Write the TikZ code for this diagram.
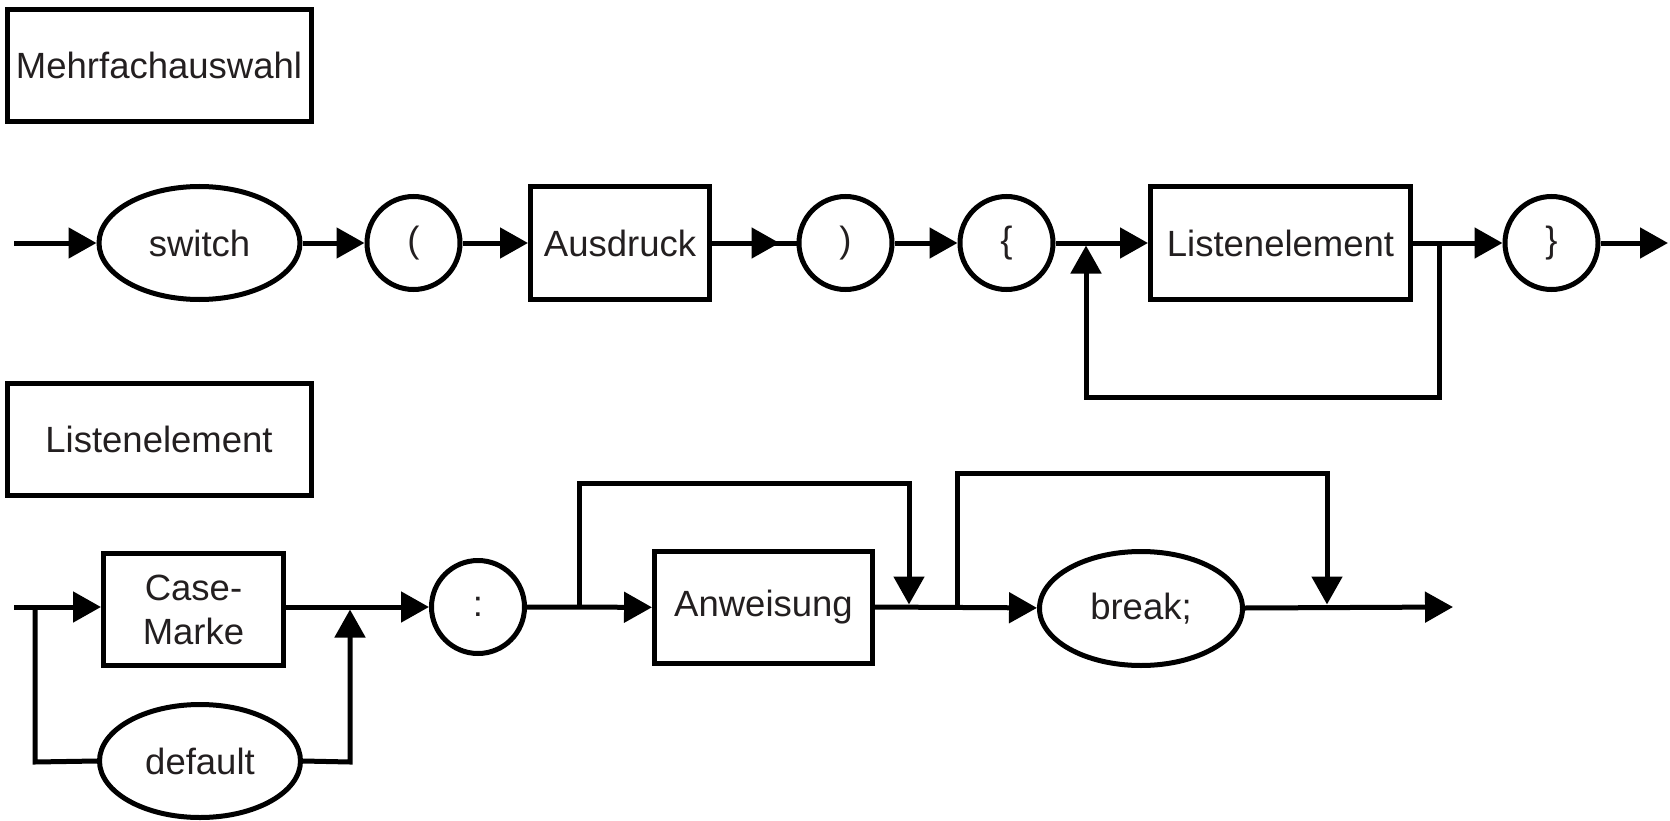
\documentclass[tikz,border=0pt]{standalone}
\usepackage{fontspec}
\setmainfont{Liberation Sans}
\usetikzlibrary{arrows.meta,shapes.geometric}
\definecolor{txt}{HTML}{231F20}
\begin{document}
\begin{tikzpicture}[x=1pt,y=-1pt,
  every node/.style={font=\fontsize{36.5}{44}\selectfont, text=txt, line width=5pt, outer sep=2.5pt, inner sep=0pt},
  box/.style={draw, rectangle, minimum width=#1, minimum height=112pt},
  oval/.style={draw, ellipse, minimum width=201pt, minimum height=113pt},
  rnd/.style={draw, circle, minimum size=93pt},
  ln/.style={line width=5pt, line join=miter},
  arr/.style={ln, -{Triangle[length=28pt, width=30pt]}}
]
\useasboundingbox (0,0) rectangle (1670,821);

% titles
\node[box=304pt] (t1) at (159,65.5) {Mehrfachauswahl};
\node[box=304pt] (t2) at (159,439.5) {Listenelement};

% top row
\coordinate (s1) at (14,243);
\node[oval] (sw) at (199.5,243) {switch};
\node[rnd] (lp) at (413.5,243) {(};
\node[box=179pt] (aus) at (620,243) {Ausdruck};
\node[rnd] (rp) at (845.5,243) {)};
\node[rnd] (lb) at (1006.5,243) {\{};
\node[box=260pt] (le) at (1280.5,243) {Listenelement};
\node[rnd] (rb) at (1551.5,243) {\}};
\coordinate (e1) at (1668,243);

\draw[arr] (s1) -- (sw);
\draw[arr] (sw) -- (lp);
\draw[arr] (lp) -- (aus);
\draw[ln] (aus.east) -- (rp.west);
\draw[arr] (aus.east) -- ([xshift=-17pt]rp.west);
\draw[arr] (rp) -- (lb);
\draw[arr] (lb) -- (le);
\draw[arr] (le) -- (rb);
\draw[arr] (rb) -- (e1);

\coordinate (lo1) at (1439,243);
\coordinate (lo2) at (1086,245.5);
\draw[arr] (lo1) -- (1439,397) -- (1086,397) -- (lo2);

% bottom row
\coordinate (s2) at (14,607);
\coordinate (b1) at (35,607);
\node[box=180pt, align=center] (cm) at (193.5,609.5) {Case-\\Marke};
\node[oval] (df) at (200,761) {default};
\node[rnd] (col) at (478,607) {:};
\node[box=218pt] (anw) at (763.5,607.5) {Anweisung};
\node[oval, minimum width=203pt, minimum height=114pt] (brk) at (1141,608.5) {break;};
\coordinate (e2) at (1453,607);

\draw[arr] (s2) -- (cm.west |- s2);
\draw[ln] (b1) -- (35,762) -- (df.west);
\draw[arr] (cm.east |- s2) -- (col);
\coordinate (j1) at (350,609.5);
\draw[arr] (df.east) -- (350,762) -- (j1);
\draw[arr] (col) -- (anw);
\coordinate (j2) at (909,604.5);
\draw[arr] (579,607) -- (579,483) -- (909,483) -- (j2);
\draw[arr] (anw.east |- col) -- (brk);
\coordinate (j3) at (1327,604.5);
\draw[arr] (957,607) -- (957,473) -- (1327,473) -- (j3);
\draw[arr] (brk) -- (e2);
\end{tikzpicture}
\end{document}
